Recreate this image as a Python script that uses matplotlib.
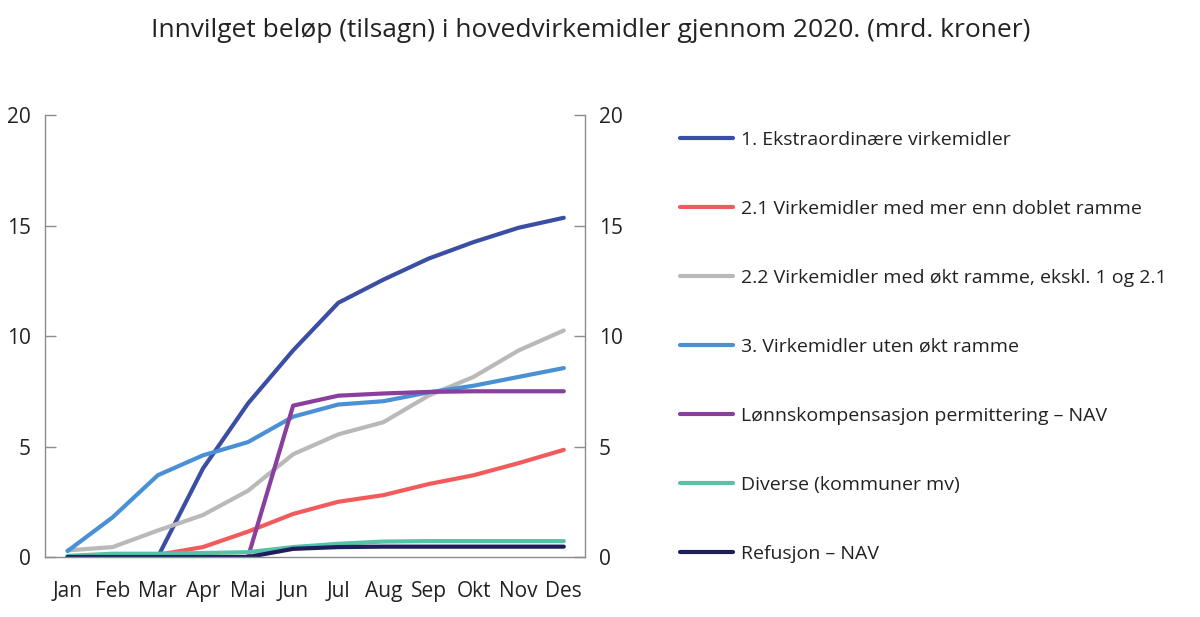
import numpy as np
import matplotlib
matplotlib.use('Agg')
import matplotlib.pyplot as plt

plt.rcParams['font.family'] = ['Open Sans', 'DejaVu Sans']

months = ['Jan', 'Feb', 'Mar', 'Apr', 'Mai', 'Jun', 'Jul', 'Aug', 'Sep', 'Okt', 'Nov', 'Des']

ekstraordinaere = [0, 0, 0, 4.0, 6.95, 9.35, 11.5, 12.55, 13.5, 14.25, 14.9, 15.35]
doblet_ramme = [0, 0.05, 0.1, 0.45, 1.15, 1.95, 2.5, 2.8, 3.3, 3.7, 4.25, 4.85]
okt_ramme = [0.3, 0.45, 1.2, 1.9, 3.0, 4.65, 5.55, 6.1, 7.3, 8.15, 9.35, 10.25]
uten_okt = [0.27, 1.8, 3.7, 4.6, 5.2, 6.35, 6.9, 7.05, 7.45, 7.75, 8.15, 8.55]
lonnskomp = [0, 0, 0, 0, 0, 6.85, 7.3, 7.4, 7.47, 7.5, 7.5, 7.5]
diverse = [0.05, 0.15, 0.15, 0.18, 0.22, 0.45, 0.6, 0.7, 0.72, 0.72, 0.72, 0.72]
refusjon = [0, 0, 0, 0, 0, 0.37, 0.45, 0.47, 0.47, 0.47, 0.47, 0.47]

series = [
    ('1. Ekstraordinære virkemidler', ekstraordinaere, '#3A4EA3'),
    ('2.1 Virkemidler med mer enn doblet ramme', doblet_ramme, '#F25B5B'),
    ('2.2 Virkemidler med økt ramme, ekskl. 1 og 2.1', okt_ramme, '#B9B9B9'),
    ('3. Virkemidler uten økt ramme', uten_okt, '#4A90D4'),
    ('Lønnskompensasjon permittering – NAV', lonnskomp, '#8A3E9D'),
    ('Diverse (kommuner mv)', diverse, '#57C2A8'),
    ('Refusjon – NAV', refusjon, '#1E1E5C'),
]

fig = plt.figure(figsize=(12, 6.17), dpi=100)
ax = fig.add_axes([0.0375, 0.0972, 0.45, 0.7164])

x = np.arange(len(months))
for label, vals, color in series:
    ax.plot(x, vals, color=color, lw=3, label=label, solid_capstyle='round')

ax.set_xlim(-0.5, 11.47)
ax.set_ylim(0, 20)
ax.set_yticks([0, 5, 10, 15, 20])
ax.set_xticks(x)
ax.set_xticklabels(months)

for s in ['left', 'right', 'bottom']:
    ax.spines[s].set_color('#8C8C8C')
    ax.spines[s].set_linewidth(1)
ax.spines['top'].set_visible(False)

ax.tick_params(axis='y', direction='in', length=8, width=1, color='#8C8C8C',
               left=True, right=True, labelleft=True, labelright=True,
               labelsize=15, labelcolor='#222222', pad=10)
ax.tick_params(axis='x', length=0, labelsize=15, labelcolor='#222222', pad=17)

fig.text(0.492, 0.95, 'Innvilget beløp (tilsagn) i hovedvirkemidler gjennom 2020. (mrd. kroner)',
         ha='center', va='center', fontsize=19, color='#222222')

leg = ax.legend(loc='upper left', bbox_to_anchor=(0.56, 0.80), bbox_transform=fig.transFigure,
                frameon=False, fontsize=14, handlelength=2.75, handletextpad=0.4,
                labelspacing=2.62, borderaxespad=0)
for t in leg.get_texts():
    t.set_color('#222222')

fig.savefig('out.png', dpi=100)
